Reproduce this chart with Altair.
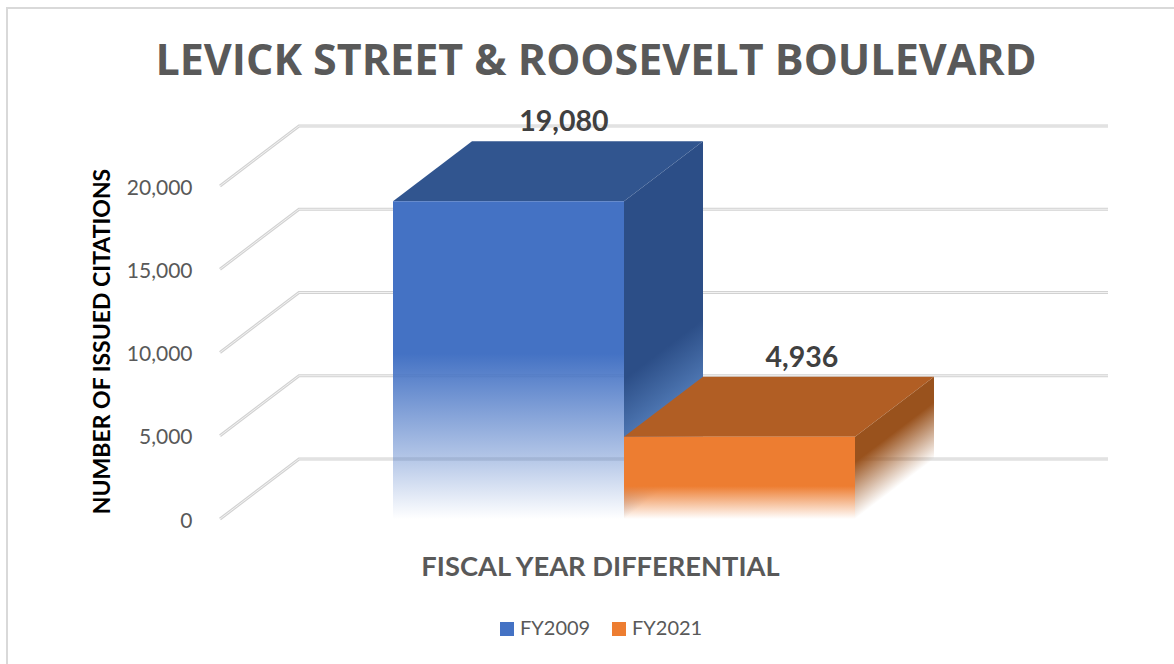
import altair as alt
import pandas as pd

# ---- chart values ----
categories = ["FY2009", "FY2021"]
citations = [19080, 4936]
tick_values = [0, 5000, 10000, 15000, 20000]
label_shift = [0.24, 0.27]          # sideways nudge of each value label, in bar widths
front_colors = ["#4472C4", "#ED7D31"]
top_colors = ["#31558F", "#B15E24"]
side_colors = ["#2C4E87", "#99521D"]

# ---- scale geometry ----
W, H = 1174, 664
BAR_PX = 231.0                      # one bar width in pixels
ZERO_X = 393.0                      # left edge of the first bar
ZERO_Y = 519.0                      # value 0 on the front plane
PX_PER_UNIT = 83.25 / 5000
DEPTH_X = 79 / BAR_PX               # receding offset, x units
DEPTH_Y = 60 / PX_PER_UNIT          # receding offset, y units
WALL_LEFT = (220 - ZERO_X) / BAR_PX
WALL_RIGHT = (1108 - ZERO_X) / BAR_PX

x_scale = alt.Scale(domain=[-ZERO_X / BAR_PX, (W - ZERO_X) / BAR_PX], nice=False, zero=False)
y_scale = alt.Scale(domain=[(ZERO_Y - H) / PX_PER_UNIT, ZERO_Y / PX_PER_UNIT], nice=False, zero=False)

# Every layer carries the same axis definitions so they merge into one pair.
y_axis = alt.Axis(
    values=tick_values, labelExpr="format(datum.value, ',')", offset=-192, labelPadding=0,
    ticks=False, domain=False, grid=False, labelOffset=2,
    labelFont="Lato", labelFontSize=21, labelColor="#595959",
    title="NUMBER OF ISSUED CITATIONS", titleFont="Lato", titleFontSize=23,
    titleFontWeight="bold", titleColor="#000000", titleAngle=270,
    titleX=-90, titleY=341, titleAlign="center", titleBaseline="middle",
)
x_axis = alt.Axis(
    labels=False, ticks=False, domain=False, grid=False,
    title="FISCAL YEAR DIFFERENTIAL", titleFont="Lato", titleFontSize=27.3,
    titleFontWeight="bold", titleColor="#595959",
    titleX=600, titleY=-97, titleAlign="center", titleBaseline="middle",
)
X = lambda field: alt.X(field, scale=x_scale, axis=x_axis)
Y = lambda field: alt.Y(field, scale=y_scale, axis=y_axis)


def rgba(hex_color, alpha):
    r, g, b = (int(hex_color[i:i + 2], 16) for i in (1, 3, 5))
    return f"rgba({r},{g},{b},{alpha})"


def fade(color, start, mid, mid_color, x2=0.0, y2=1.0):
    """Solid down to `start`, then dissolving into the background."""
    return alt.LinearGradient(
        gradient="linear", x1=0, y1=0, x2=x2, y2=y2,
        stops=[
            alt.GradientStop(color=color, offset=0),
            alt.GradientStop(color=color, offset=start),
            alt.GradientStop(color=mid_color, offset=mid),
            alt.GradientStop(color=rgba(color, 0), offset=1),
        ],
    )


def skew_fade(color, value, start, mid, mid_color):
    # Side face: iso-lines of the fade run parallel to its sloped bottom edge.
    s = DEPTH_Y / (value + DEPTH_Y)
    k = 1 / (1 + s * s)
    return fade(color, start, mid, mid_color, x2=s * k, y2=k)


def face(rows, fill):
    return alt.Chart(pd.DataFrame(rows, columns=["x", "y", "y2"])).mark_area(
        color=fill, line=False, clip=False
    ).encode(x=X("x:Q"), y=Y("y:Q"), y2="y2:Q")


def front(i):
    v = citations[i]
    return [(i, v, 0), (i + 1, v, 0)]


def side(i):
    v = citations[i]
    return [(i + 1, v, 0), (i + 1 + DEPTH_X, v + DEPTH_Y, DEPTH_Y)]


def top(i):
    v = citations[i]
    d, dx = DEPTH_Y, DEPTH_X
    return [(i, v, v), (i + dx, v + d, v), (i + 1, v + d, v), (i + 1 + dx, v + d, v + d)]


# ---- gridlines: floor-to-wall bend for every tick ----
grid_rows = []
for t in tick_values:
    grid_rows += [
        {"t": t, "x": WALL_LEFT, "y": t},
        {"t": t, "x": WALL_LEFT + DEPTH_X, "y": t + DEPTH_Y},
        {"t": t, "x": WALL_RIGHT, "y": t + DEPTH_Y},
    ]
grid_df = pd.DataFrame(grid_rows)


def grid(color, width):
    return alt.Chart(grid_df).mark_line(color=color, strokeWidth=width).encode(
        x=X("x:Q"), y=Y("y:Q"), detail="t:N"
    )


# ---- value labels sit above the back of each top face ----
label_df = pd.DataFrame({
    "x": [i + 0.5 + label_shift[i] for i in range(2)],
    "value": citations,
    "y": [v + DEPTH_Y for v in citations],
})
labels = alt.Chart(label_df).mark_text(
    font="Lato", fontSize=28.5, fontWeight="bold", color="#404040", baseline="bottom", dy=-4
).encode(x=X("x:Q"), y=Y("y:Q"), text=alt.Text("value:Q", format=","))

# ---- invisible series that carries the legend ----
legend_df = pd.DataFrame({"fy": categories, "x": [0.5, 1.5], "y": citations})
legend_layer = alt.Chart(legend_df).mark_square(size=1, opacity=0).encode(
    x=X("x:Q"),
    y=Y("y:Q"),
    color=alt.Color(
        "fy:N",
        scale=alt.Scale(domain=categories, range=front_colors),
        legend=alt.Legend(
            title=None, orient="none", legendX=497, legendY=619, direction="horizontal",
            symbolType="square", symbolSize=196, symbolOpacity=1, symbolStrokeWidth=0,
            labelFont="Lato", labelFontSize=20, labelColor="#595959", labelOffset=3,
            columnPadding=18,
        ),
    ),
)


def swatch_fade(x0):
    # Bottom of a legend swatch dissolves the same way the bars do.
    fill = alt.LinearGradient(
        gradient="linear", x1=0, y1=0, x2=0, y2=1,
        stops=[
            alt.GradientStop(color="rgba(255,255,255,0)", offset=0),
            alt.GradientStop(color="rgba(255,255,255,0.9)", offset=1),
        ],
    )
    return alt.Chart(legend_df).mark_rect(color=fill).encode(
        x=alt.value(x0), x2=alt.value(x0 + 15), y=alt.value(629), y2=alt.value(637)
    )


title = alt.Chart(pd.DataFrame({"t": ["LEVICK STREET & ROOSEVELT BOULEVARD"]})).mark_text(
    font="Open Sans", fontSize=43, fontWeight="bold", color="#595959", align="center", baseline="middle"
).encode(x=alt.value(596), y=alt.value(62), text="t:N")

frame_left = alt.Chart(legend_df).mark_rule(color="#D9D9D9", strokeWidth=2).encode(
    x=alt.value(7), y=alt.value(8), y2=alt.value(H)
)
frame_top = alt.Chart(legend_df).mark_rule(color="#D9D9D9", strokeWidth=2).encode(
    x=alt.value(6), x2=alt.value(W), y=alt.value(8)
)

chart = alt.layer(
    frame_left,
    frame_top,
    grid("#D2D2D2", 3),
    grid("#F2F2F2", 1),
    legend_layer,
    face(side(0), skew_fade(side_colors[0], citations[0], 0.63, 0.8, "#5079B5")),
    face(top(0), top_colors[0]),
    face(front(0), fade(front_colors[0], 0.48, 0.8, rgba(front_colors[0], 0.42))),
    face(top(1), top_colors[1]),
    face(side(1), skew_fade(side_colors[1], citations[1], 0.6, 0.8, rgba(side_colors[1], 0.5))),
    face(front(1), fade(front_colors[1], 0.6, 0.8, rgba(front_colors[1], 0.5))),
    labels,
    title,
    swatch_fade(500),
    swatch_fade(611),
).properties(
    width=W, height=H, padding=0, background="white",
    autosize=alt.AutoSizeParams(type="none"),
).resolve_scale(
    x="shared", y="shared"
).configure_view(stroke=None)

chart.save("out.html", embed_options={"renderer": "svg", "actions": False})
